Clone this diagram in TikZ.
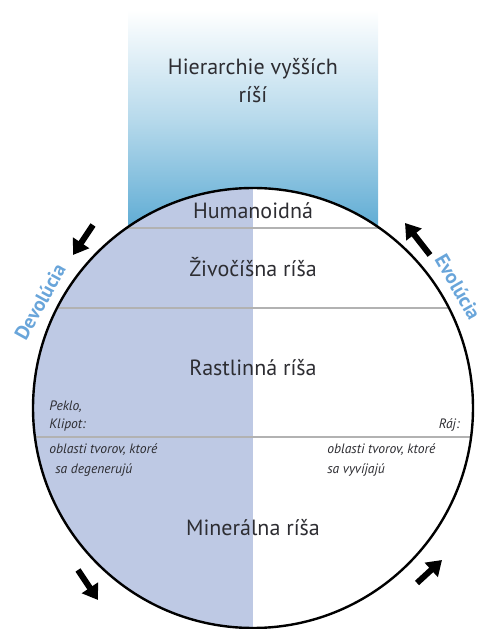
\documentclass[tikz,border=0pt]{standalone}
\usepackage{fontspec}
\setmainfont{PT Sans}
\usetikzlibrary{arrows.meta}
\definecolor{realmtext}{RGB}{45,45,50}
\definecolor{lavender}{RGB}{190,201,228}
\definecolor{skyband}{RGB}{95,172,212}
\definecolor{cyclelabel}{RGB}{105,165,218}
\begin{document}
\begin{tikzpicture}[x=0.75pt,y=0.75pt,
  realm/.style={text=realmtext,font=\fontsize{16.5}{21}\selectfont,align=center},
  note/.style={text=realmtext,font=\fontsize{10.2}{12}\selectfont\itshape,inner sep=0pt},
  cyclename/.style={text=cyclelabel,font=\fontsize{15}{18}\selectfont\bfseries,inner sep=0pt},
  turn/.style={-{Triangle[length=11pt,width=14pt]},line width=4.5pt},
  chord/.style={draw=black!30,line width=0.8pt}]
\useasboundingbox (0,0) rectangle (483,629);
\shade[top color=white,bottom color=skyband,middle color=skyband!45] (128,619) rectangle (378,401);
\fill[lavender] (253,1) arc (-90:-270:220) -- cycle;
\fill[white] (253,1) arc (-90:90:220) -- cycle;
\draw[chord] (126.5,401) -- (379.5,401);
\draw[chord] (57,321) -- (449,321);
\draw[chord] (35,192) -- (471,192);
\draw[line width=1.8pt] (253,221) circle [radius=220];
\node[realm] (higher) at (253,548) {Hierarchie vyšších\\ríší};
\node[realm] (humanoid) at (253,418) {Humanoidná};
\node[realm] (animal) at (253,362) {Živočíšna ríša};
\node[realm] (plant) at (253,261) {Rastlinná ríša};
\node[realm] (mineral) at (253,101) {Minerálna ríša};
\node[note,anchor=west] (hell) at (49,222) {Peklo,};
\node[note,anchor=west] (klipot) at (49,204) {Klipot:};
\node[note,anchor=east] (paradise) at (460,204) {Ráj:};
\node[note,anchor=west] (degleft) at (49,179) {oblasti tvorov, ktoré};
\node[note,anchor=west] (degleft2) at (55,159) {sa degenerujú};
\node[note,anchor=west] (evoright) at (327,179) {oblasti tvorov, ktoré};
\node[note,anchor=west] (evoright2) at (327,159) {sa vyvíjajú};
\node[cyclename,rotate=61] (devolution) at (40,327) {Devolúcia};
\node[cyclename,rotate=-60] (evolution) at (458,342) {Evolúcia};
\coordinate (tlA) at (93,404);
\coordinate (tlB) at (73,374);
\coordinate (trA) at (430,374);
\coordinate (trB) at (405,406);
\coordinate (blA) at (78,59);
\coordinate (blB) at (98,29);
\coordinate (brA) at (417,46);
\coordinate (brB) at (442,69);
\draw[turn] (tlA) -- (tlB);
\draw[turn] (trA) -- (trB);
\draw[turn] (blA) -- (blB);
\draw[turn] (brA) -- (brB);
\end{tikzpicture}
\end{document}
